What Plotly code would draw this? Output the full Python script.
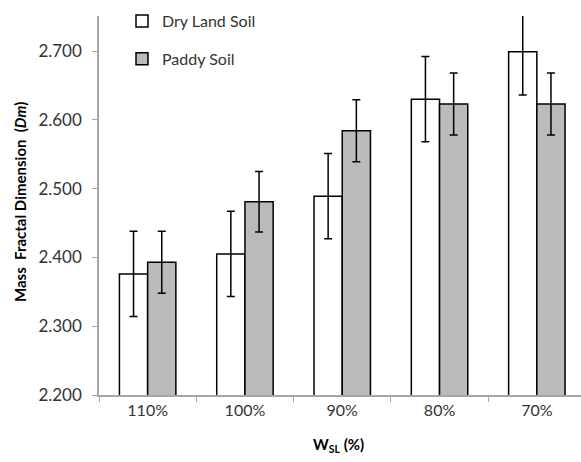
import plotly.graph_objects as go

categories = ["110%", "100%", "90%", "80%", "70%"]
dry_land = [2.376, 2.405, 2.489, 2.630, 2.699]
dry_land_err = [0.062, 0.062, 0.062, 0.062, 0.063]
paddy = [2.393, 2.481, 2.584, 2.623, 2.623]
paddy_err = [0.045, 0.044, 0.045, 0.045, 0.045]
y_ticks = [2.2, 2.3, 2.4, 2.5, 2.6, 2.7]

FONT = "Lato, Open Sans, sans-serif"
W, H = 581, 462
L, R, T, B = 99, 0, 16, 67
pw, ph = W - L - R, H - T - B

fig = go.Figure()
fig.add_trace(go.Bar(
    x=categories, y=dry_land, name="Dry Land Soil",
    marker=dict(color="white", line=dict(color="black", width=1.5)),
    error_y=dict(type="data", array=dry_land_err, color="black", thickness=1.5, width=4),
    legendgroup="a",
))
fig.add_trace(go.Bar(
    x=categories, y=paddy, name="Paddy Soil",
    marker=dict(color="#BBBBBB", line=dict(color="black", width=1.5)),
    error_y=dict(type="data", array=paddy_err, color="black", thickness=1.5, width=4),
    legendgroup="b",
))

cat_px = 97.3
fig.update_layout(
    width=W, height=H,
    margin=dict(l=L, r=R, t=T, b=B, pad=0, autoexpand=False),
    paper_bgcolor="white", plot_bgcolor="white",
    barmode="group", bargap=0.42, bargroupgap=0,
    font=dict(family=FONT, size=16, color="#333333"),
    legend=dict(
        x=(122 - L) / pw, y=1 + 12 / ph, xanchor="left", yanchor="top",
        bgcolor="rgba(0,0,0,0)", tracegroupgap=14,
        font=dict(size=16, color="#333333"),
    ),
    xaxis=dict(
        range=[-0.5, -0.5 + pw / cat_px], automargin=False,
        showline=True, linecolor="#A6A6A6", linewidth=1.5,
        ticks="outside", ticklen=5, tickcolor="#A6A6A6", tickson="boundaries",
        showgrid=False, zeroline=False,
        tickfont=dict(size=16, color="#333333"),
    ),
    yaxis=dict(
        range=[2.2, 2.2 + 0.1 * ph / 68.8], automargin=False,
        tickvals=y_ticks, tickformat=".3f",
        showline=True, linecolor="#A6A6A6", linewidth=1.5,
        ticks="outside", ticklen=5, tickcolor="#A6A6A6",
        showgrid=False, zeroline=False,
        tickfont=dict(size=17, color="#333333"),
        ticklabelstandoff=7,
    ),
    annotations=[
        dict(
            text="<b>Mass  Fractal Dimension  (<i>Dm</i>)</b>",
            textangle=-90, xref="paper", yref="paper",
            x=(20 - L) / pw, y=(395 - 202) / ph, xanchor="center", yanchor="middle",
            showarrow=False, font=dict(size=15, color="black", family=FONT),
        ),
        dict(
            text="<b>W<sub>SL</sub> (%)</b>",
            xref="paper", yref="paper",
            x=(338 - L) / pw, y=(395 - 445) / ph, xanchor="center", yanchor="middle",
            showarrow=False, font=dict(size=15, color="black", family=FONT),
        ),
    ],
)

fig.write_html(
    "out.html",
    config={"displayModeBar": False},
    post_script="document.body.style.margin='0';",
)
